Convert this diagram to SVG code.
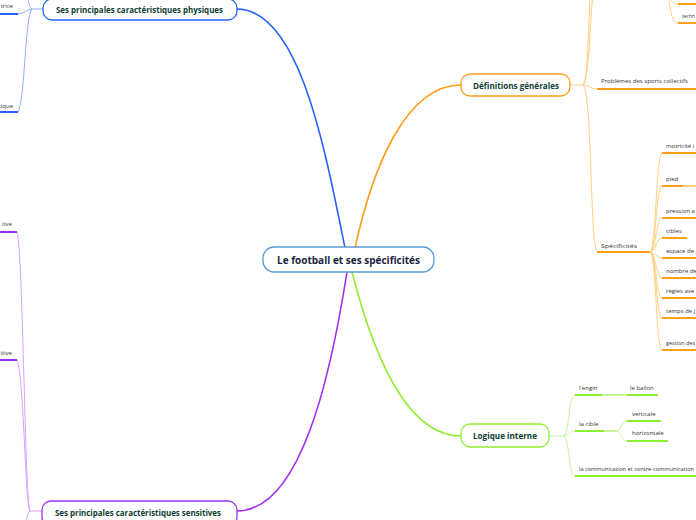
<svg xmlns="http://www.w3.org/2000/svg" width="696" height="520" viewBox="0 0 696 520">
<style>
.bg{fill:#ffffff}
.node{fill:#ffffff;stroke-width:1.3}
.main{font-family:"Open Sans","Noto Sans",sans-serif;font-weight:bold;font-size:9px;fill:#0e3d33;text-anchor:middle;dominant-baseline:central}
.center{font-family:"Open Sans","Noto Sans",sans-serif;font-weight:bold;font-size:10.5px;fill:#1b2440;text-anchor:middle;dominant-baseline:central}
.sub{font-family:"Open Sans","Noto Sans",sans-serif;font-size:6px;fill:#333333}
.subr{font-family:"Open Sans","Noto Sans",sans-serif;font-size:6px;fill:#333333;text-anchor:end}
.c{fill:none;stroke-linecap:round}
.ul{fill:none;stroke-width:2;stroke-linecap:butt}
.thin{fill:none;stroke-width:1}
</style>
<rect class="bg" x="0" y="0" width="696" height="520"/>

<g id="connectors">
  <path class="c" d="M345 248 C325 150 300 10 237 9" stroke="#2962ff" stroke-width="1.6"/>
  <path class="c" d="M355 248 C372 170 405 85 461 85" stroke="#ff9d1c" stroke-width="1.6"/>
  <path class="c" d="M352 272 C372 350 405 436 461 436" stroke="#90ee30" stroke-width="1.6"/>
  <path class="c" d="M347 272 C330 380 300 511 237 511" stroke="#a030f0" stroke-width="1.6"/>

  <g stroke="#8fb0ff">
    <path class="thin" d="M43 9 L32 9"/>
    <path class="thin" d="M32 9 C28 7 28 -5 27 -12"/>
    <path class="thin" d="M32 9 C27 9 24 14 18 14"/>
    <path class="thin" d="M32 9 C25 15 25 100 18 112"/>
  </g>
  <path class="ul" d="M0 14 L18 14" stroke="#2962ff"/>
  <path class="ul" d="M0 112 L18 112" stroke="#2962ff"/>

  <g stroke="#d9a0ff">
    <path class="thin" d="M42 511 L30 511"/>
    <path class="thin" d="M30 511 C25 505 23 250 17 232"/>
    <path class="thin" d="M30 511 C25 505 24 375 17 360"/>
    <path class="thin" d="M30 511 C27 514 26 520 26 526"/>
  </g>
  <path class="ul" d="M0 232 L17 232" stroke="#a030f0"/>
  <path class="ul" d="M0 360 L17 360" stroke="#a030f0"/>

  <g stroke="#ffcf80">
    <path class="thin" d="M570 85 L583 85"/>
    <path class="thin" d="M583 85 C590 80 590 0 595 -20"/>
    <path class="thin" d="M583 85 C589 80 588 10 592 -40"/>
    <path class="thin" d="M583 85 C590 85 590 89 597 89"/>
    <path class="thin" d="M583 85 C592 90 590 245 597 252"/>
    <path class="thin" d="M668 -10 C670 0 672 4 678 4"/>
    <path class="thin" d="M668 -10 C670 10 672 23 678 23"/>
    <path class="thin" d="M650 252 C656 252 656 153 662 153"/>
    <path class="thin" d="M650 252 C656 252 656 186 662 186"/>
    <path class="thin" d="M650 252 C656 252 656 218 662 218"/>
    <path class="thin" d="M650 252 C656 252 656 238 662 238"/>
    <path class="thin" d="M650 252 C656 252 656 258 662 258"/>
    <path class="thin" d="M650 252 C656 252 656 278 662 278"/>
    <path class="thin" d="M650 252 C656 252 656 298 662 298"/>
    <path class="thin" d="M650 252 C656 252 656 318 662 318"/>
    <path class="thin" d="M650 252 C656 252 656 350 662 350"/>
    <path class="ul" d="M683 186 L696 186"/>
  </g>
  <g stroke="#ff9d1c">
    <path class="ul" d="M678 4 L696 4"/>
    <path class="ul" d="M678 23 L696 23"/>
    <path class="ul" d="M597 89 L696 89"/>
    <path class="ul" d="M597 252 L650 252"/>
    <path class="ul" d="M662 153 L696 153"/>
    <path class="ul" d="M662 186 L683 186"/>
    <path class="ul" d="M662 218 L696 218"/>
    <path class="ul" d="M662 238 L687 238"/>
    <path class="ul" d="M662 258 L696 258"/>
    <path class="ul" d="M662 278 L696 278"/>
    <path class="ul" d="M662 298 L696 298"/>
    <path class="ul" d="M662 318 L696 318"/>
    <path class="ul" d="M662 350 L696 350"/>
  </g>

  <g stroke="#c8f59a">
    <path class="thin" d="M549 436 L563 436"/>
    <path class="thin" d="M563 436 C570 436 568 395 575 395"/>
    <path class="thin" d="M563 436 C570 436 569 431 575 431"/>
    <path class="thin" d="M563 436 C570 436 568 476 575 476"/>
    <path class="ul" d="M602 395 L627 395"/>
    <path class="ul" d="M604 431 L616 431"/>
    <path class="thin" d="M616 431 C622 431 621 421 627 421"/>
    <path class="thin" d="M616 431 C622 431 621 441 627 441"/>
  </g>
  <g stroke="#90ee30">
    <path class="ul" d="M575 395 L602 395"/>
    <path class="ul" d="M627 395 L658 395"/>
    <path class="ul" d="M575 431 L604 431"/>
    <path class="ul" d="M627 421 L661 421"/>
    <path class="ul" d="M627 441 L668 441"/>
    <path class="ul" d="M575 476 L696 476"/>
  </g>
</g>

<g id="center">
  <rect class="node" x="263" y="247" width="171" height="25" rx="11" stroke="#5b9bd5"/>
  <text class="center" x="348.5" y="259.5" textLength="143" lengthAdjust="spacingAndGlyphs">Le football et ses spécificités</text>
</g>

<g id="physiques">
  <rect class="node" x="43" y="-1" width="194" height="21" rx="9" stroke="#2962ff"/>
  <text class="main" x="139.5" y="9" textLength="167" lengthAdjust="spacingAndGlyphs">Ses principales caractéristiques physiques</text>
</g>
<g id="physiques-1"><text class="subr" x="13" y="8">trice</text></g>
<g id="physiques-2"><text class="subr" x="13" y="108">tique</text></g>

<g id="sensitives">
  <rect class="node" x="42" y="501" width="195" height="25" rx="9" stroke="#a030f0"/>
  <text class="main" x="138" y="512" textLength="166" lengthAdjust="spacingAndGlyphs">Ses principales caractéristiques sensitives</text>
</g>
<g id="sensitives-1"><text class="subr" x="12" y="226">tive</text></g>
<g id="sensitives-2"><text class="subr" x="12" y="355">itive</text></g>

<g id="definitions">
  <rect class="node" x="461" y="74" width="109" height="22" rx="9" stroke="#ff9d1c"/>
  <text class="main" x="516" y="85" textLength="86" lengthAdjust="spacingAndGlyphs">Définitions générales</text>
</g>
<g id="techn"><text class="sub" x="682" y="18" textLength="13" lengthAdjust="spacingAndGlyphs">techn</text></g>
<g id="problemes"><text class="sub" x="601" y="82.5" textLength="87" lengthAdjust="spacingAndGlyphs">Problèmes des sports collectifs</text></g>
<g id="specificites"><text class="sub" x="601" y="247.5" textLength="36" lengthAdjust="spacingAndGlyphs">Spécificités</text></g>
<g id="spec-1"><text class="sub" x="666" y="148">motricité i</text></g>
<g id="spec-2"><text class="sub" x="666" y="180.5">pied</text></g>
<g id="spec-3"><text class="sub" x="666" y="213">pression a</text></g>
<g id="spec-4"><text class="sub" x="666" y="233">cibles</text></g>
<g id="spec-5"><text class="sub" x="666" y="252.5">espace de j</text></g>
<g id="spec-6"><text class="sub" x="666" y="272.5">nombre de</text></g>
<g id="spec-7"><text class="sub" x="666" y="292.5">règles ave</text></g>
<g id="spec-8"><text class="sub" x="666" y="312.5">temps de j</text></g>
<g id="spec-9"><text class="sub" x="666" y="345" textLength="29" lengthAdjust="spacingAndGlyphs">gestion des</text></g>

<g id="logique">
  <rect class="node" x="461" y="424" width="88" height="23" rx="9" stroke="#90ee30"/>
  <text class="main" x="505" y="435.5" textLength="64" lengthAdjust="spacingAndGlyphs">Logique interne</text>
</g>
<g id="engin"><text class="sub" x="579" y="389.5">l'engin</text></g>
<g id="ballon"><text class="sub" x="630" y="389.5">le ballon</text></g>
<g id="cible"><text class="sub" x="579" y="425.5">la cible</text></g>
<g id="verticale"><text class="sub" x="632" y="415.5">verticale</text></g>
<g id="horizontale"><text class="sub" x="632" y="435">horizontale</text></g>
<g id="communication"><text class="sub" x="579" y="470.5" textLength="115" lengthAdjust="spacingAndGlyphs">la communication et contre-communication</text></g>
</svg>
